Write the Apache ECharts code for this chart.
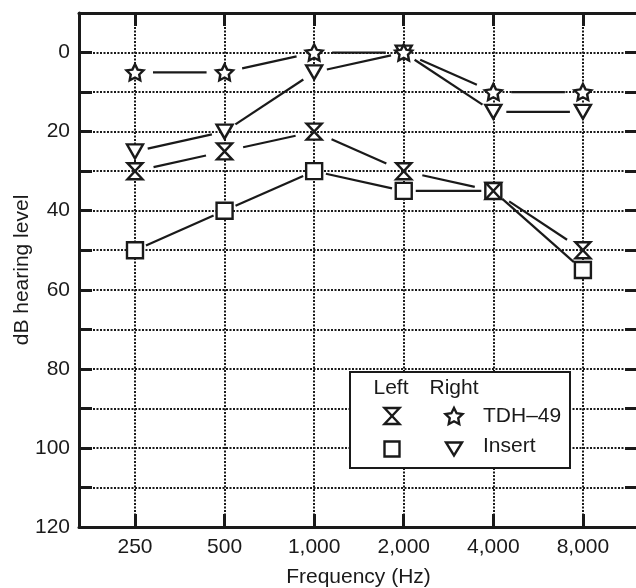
<!DOCTYPE html>
<html>
<head>
<meta charset="utf-8">
<script src="https://cdn.jsdelivr.net/npm/echarts@6/dist/echarts.min.js"></script>
<style>
  html, body { margin: 0; padding: 0; background: #fff; }
  #chart { width: 636px; height: 588px; }
</style>
</head>
<body>
<div id="chart"></div>
<script>
// Audiogram: hearing thresholds (dB HL) per test frequency, both ears, two transducers
const frequencies = ['250', '500', '1,000', '2,000', '4,000', '8,000'];
const leftTDH = [30, 25, 20, 30, 35, 50];
const rightTDH = [5, 5, 0, 0, 10, 10];
const leftInsert = [50, 40, 30, 35, 35, 55];
const rightInsert = [25, 20, 5, 0, 15, 15];
const dbTicks = [0, 20, 40, 60, 80, 100, 120];

const INK = '#1a1a1a';
const FONT = '"Liberation Sans", Arial, Helvetica, sans-serif';
const FONT_SIZE = 21;

// Marker outlines, as polygons normalised to a unit box centred on 0
function normalise(pts) {
  const xs = pts.map(p => p[0]), ys = pts.map(p => p[1]);
  const x0 = Math.min(...xs), x1 = Math.max(...xs), y0 = Math.min(...ys), y1 = Math.max(...ys);
  return pts.map(p => [(p[0] - x0) / (x1 - x0) - 0.5, (p[1] - y0) / (y1 - y0) - 0.5]);
}
const starPts = (() => {
  const pts = [];
  for (let k = 0; k < 10; k++) {
    const r = k % 2 === 0 ? 1 : 0.5;
    const a = (-90 + 36 * k) * Math.PI / 180;
    pts.push([r * Math.cos(a), r * Math.sin(a)]);
  }
  return normalise(pts);
})();
const bowtiePts = [[-0.5, -0.5], [0.5, -0.5], [-0.5, 0.5], [0.5, 0.5]];
const squarePts = [[-0.5, -0.5], [0.5, -0.5], [0.5, 0.5], [-0.5, 0.5]];
const trianglePts = [[-0.5, -0.5], [0.5, -0.5], [0, 0.5]];

function place(pts, cx, cy, w, h) {
  return pts.map(p => [cx + p[0] * w, cy + p[1] * h]);
}
function toPath(pts) {
  return pts.map((p, i) => (i ? 'L' : 'M') + p[0].toFixed(2) + ' ' + p[1].toFixed(2)).join('') + 'Z';
}
const symbolOf = pts => 'path://' + toPath(place(pts, 50, 50, 100, 100));

// Connecting segments between consecutive frequencies
function segments(values) {
  const out = [];
  for (let i = 0; i < values.length - 1; i++) out.push([i, values[i], i + 1, values[i + 1]]);
  return out;
}
// Lines stop short of each marker, leaving a small gap around it
function gapLine(gap) {
  return function (params, api) {
    const a = api.coord([api.value(0), api.value(1)]);
    const b = api.coord([api.value(2), api.value(3)]);
    const dx = b[0] - a[0], dy = b[1] - a[1];
    const len = Math.hypot(dx, dy);
    const ux = dx / len, uy = dy / len;
    return {
      type: 'line',
      shape: { x1: a[0] + ux * gap, y1: a[1] + uy * gap, x2: b[0] - ux * gap, y2: b[1] - uy * gap },
      style: { stroke: INK, lineWidth: 2.2 }
    };
  };
}

const groups = [
  { name: 'Right Insert', values: rightInsert, pts: trianglePts, size: [16, 14], gap: 13 },
  { name: 'Left Insert', values: leftInsert, pts: squarePts, size: [16, 16], gap: 12 },
  { name: 'Left TDH–49', values: leftTDH, pts: bowtiePts, size: [15, 16], gap: 19 },
  { name: 'Right TDH–49', values: rightTDH, pts: starPts, size: [17, 16], gap: 18 }
];

const series = [];
groups.forEach(g => {
  series.push({
    type: 'custom',
    name: g.name + ' line',
    renderItem: gapLine(g.gap),
    data: segments(g.values),
    encode: { x: [0, 2], y: [1, 3] },
    silent: true,
    z: 2
  });
});
groups.forEach((g, i) => {
  series.push({
    type: 'scatter',
    name: g.name,
    data: g.values.map((v, j) => [j, v]),
    symbol: symbolOf(g.pts),
    symbolSize: g.size,
    itemStyle: { color: '#fff', borderColor: INK, borderWidth: 2.4, opacity: 1 },
    silent: true,
    z: 3 + i
  });
});

const xPositions = frequencies.map((f, i) => i);
const frameLine = { show: true, onZero: false, lineStyle: { color: INK, width: 3 } };
const frameTick = { show: true, inside: true, length: 13, lineStyle: { color: INK, width: 3 } };
const dotted = { show: true, lineStyle: { type: [2, 1.5], width: 2, color: INK } };
const labelText = { fontSize: FONT_SIZE, color: INK, fontFamily: FONT };

// Legend panel: left/right ear columns, transducer rows
const LG = { x: 350, y: 372, w: 220, h: 96, colL: 392, colR: 454, row1: 416, row2: 448, textX: 483 };
const legendMark = (pts, cx, cy, w, h) => ({
  type: 'polygon',
  shape: { points: place(pts, cx, cy, w, h) },
  style: { fill: '#fff', stroke: INK, lineWidth: 2.4 },
  z: 101
});
const legendText = (text, x, y, align) => ({
  type: 'text',
  x: x, y: y,
  style: { text: text, fill: INK, font: FONT_SIZE + 'px ' + FONT, align: align, verticalAlign: 'middle', textAlign: align, textVerticalAlign: 'middle' },
  z: 101
});

const option = {
  animation: false,
  backgroundColor: '#fff',
  grid: { left: 79, right: -2, top: 13, bottom: 61, outerBoundsMode: 'none', containLabel: false },
  xAxis: [
    {
      type: 'value', position: 'bottom', min: -0.625, max: 5.615,
      axisLine: frameLine,
      axisTick: Object.assign({ customValues: xPositions }, frameTick),
      axisLabel: Object.assign({ customValues: xPositions, margin: 10, formatter: v => frequencies[Math.round(v)] }, labelText),
      splitLine: dotted,
      name: 'Frequency (Hz)', nameLocation: 'middle', nameGap: 40,
      nameTextStyle: labelText
    },
    {
      type: 'value', position: 'top', min: -0.625, max: 5.615,
      axisLine: frameLine,
      axisTick: Object.assign({ customValues: xPositions }, frameTick),
      axisLabel: { show: false },
      splitLine: { show: false }
    }
  ],
  yAxis: [
    {
      type: 'value', position: 'left', inverse: true, min: -10, max: 120, interval: 10,
      axisLine: frameLine,
      axisTick: frameTick,
      axisLabel: Object.assign({ customValues: dbTicks, margin: 9 }, labelText),
      splitLine: dotted,
      name: 'dB hearing level', nameLocation: 'middle', nameGap: 46, nameMoveOverlap: false,
      nameTextStyle: labelText
    },
    {
      type: 'value', position: 'right', inverse: true, min: -10, max: 120, interval: 10,
      axisLine: frameLine,
      axisTick: frameTick,
      axisLabel: { show: false },
      splitLine: { show: false }
    }
  ],
  graphic: [
    {
      type: 'rect',
      shape: { x: LG.x, y: LG.y, width: LG.w, height: LG.h },
      style: { fill: '#fff', stroke: INK, lineWidth: 2 },
      z: 100
    },
    legendText('Left', LG.colL - 1, 388, 'center'),
    legendText('Right', LG.colR, 388, 'center'),
    legendMark(bowtiePts, LG.colL, LG.row1, 15, 16),
    legendMark(starPts, LG.colR, LG.row1, 17, 16),
    legendText('TDH–49', LG.textX, LG.row1, 'left'),
    legendMark(squarePts, LG.colL, LG.row2 + 1, 15, 15),
    legendMark(trianglePts, LG.colR, LG.row2 + 1, 16, 13),
    legendText('Insert', LG.textX, LG.row2 - 2, 'left')
  ],
  series: series
};

const chart = echarts.init(document.getElementById('chart'), null, { renderer: 'canvas' });
chart.setOption(option);
</script>
</body>
</html>
